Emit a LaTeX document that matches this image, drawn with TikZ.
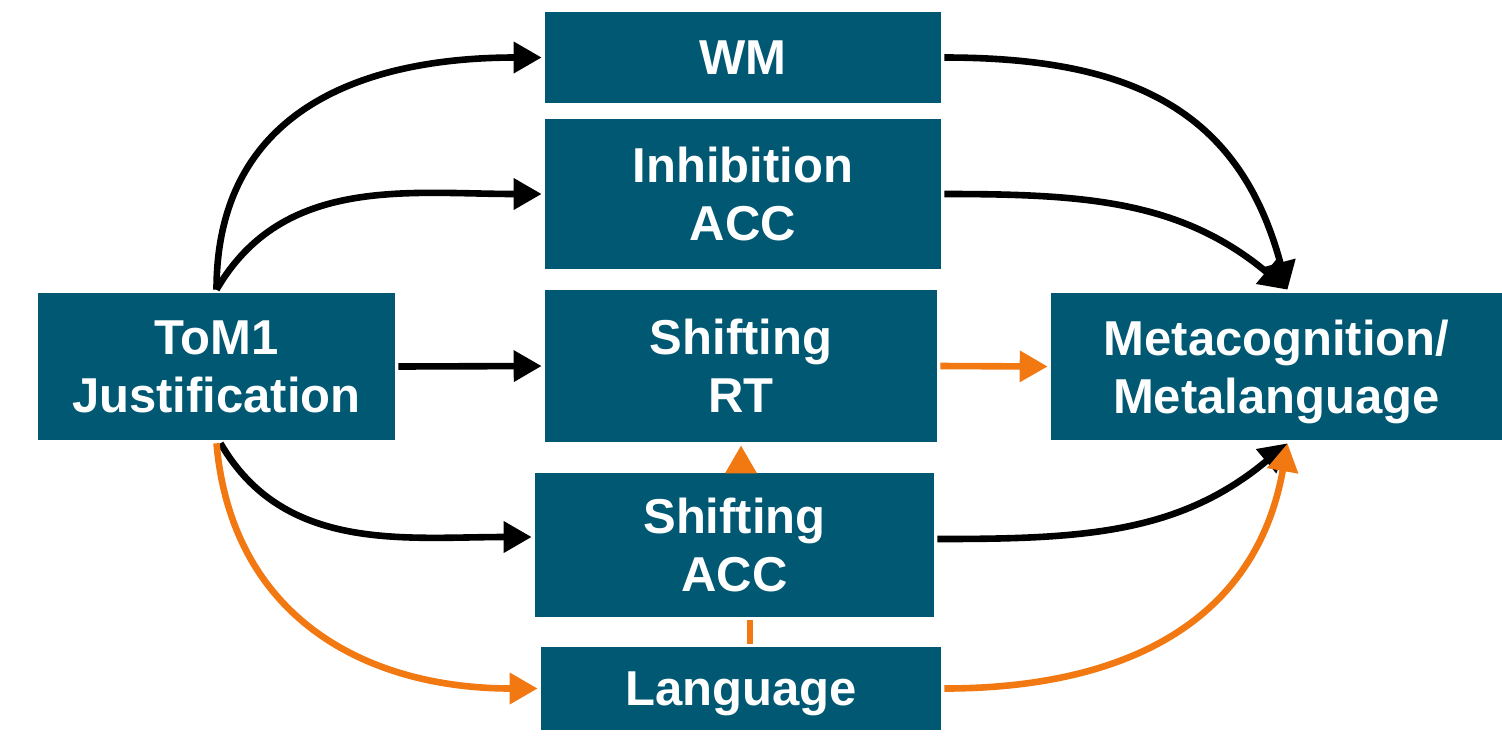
\documentclass[tikz,border=0pt]{standalone}
\usepackage{fontspec}
\setmainfont{Liberation Sans}
\usetikzlibrary{arrows.meta}
\definecolor{boxteal}{RGB}{0,88,115}
\definecolor{linkorange}{RGB}{242,120,18}

\begin{document}
\begin{tikzpicture}[x=0.5pt, y=0.5pt, >={Triangle[length=14pt,width=15pt]}]
	\tikzstyle{block} = [fill=boxteal, text=white, inner sep=0pt, align=center, text depth=0pt, font=\fontsize{24.5}{29}\selectfont\bfseries]
	\tikzstyle{link} = [line width=3.3pt]
	\useasboundingbox (0,0) rectangle (1502,-745);

	\path[->, link]
	node[block, minimum width=198pt, minimum height=45.5pt] (wm) at (743,-57.5) {WM}
	node[block, minimum width=198pt, minimum height=75pt] (inh) at (743,-194) {Inhibition\\ACC}
	node[block, minimum width=178.5pt, minimum height=73.5pt] (tom) at (216.5,-366.5) {ToM1\\Justification}
	node[block, minimum width=196pt, minimum height=76pt] (shrt) at (741,-366) {Shifting\\RT}
	node[block, minimum width=225.5pt, minimum height=73.5pt] (meta) at (1276.5,-366.5) {Metacognition/\\Metalanguage}
	node[block, minimum width=199.5pt, minimum height=72pt] (shacc) at (734.5,-545) {Shifting\\ACC}
	node[block, minimum width=200pt, minimum height=41.5pt] (lang) at (741,-688.5) {Language}

	(tom.north) edge[out=90, in=180, looseness=1.15] (wm.west)
	(tom.north) edge[out=60, in=180] (inh.west)
	(tom.east) edge (shrt.west)
	([xshift=2pt]tom.south) edge[out=-60, in=180] ([yshift=4pt]shacc.west)
	(tom.south) edge[linkorange, out=-85, in=180, looseness=1.1] (lang.west)
	(wm.east) edge[out=0, in=105, looseness=1.15] ([xshift=5.5pt]meta.north)
	(inh.east) edge[out=0, in=140] ([xshift=5.5pt]meta.north)
	(shrt.east) edge[linkorange] (meta.west)
	([yshift=3pt]shacc.east) edge[out=0, in=220] ([xshift=5.5pt]meta.south)
	(lang.east) edge[linkorange, out=0, in=-100, looseness=1.1] ([xshift=5.5pt]meta.south)
	(shrt.south |- shacc.north) edge[linkorange] (shrt.south)
	([xshift=4.5pt]lang.north) edge[linkorange, -] ([xshift=4.5pt]lang.north |- shacc.south)
	;
\end{tikzpicture}
\end{document}
